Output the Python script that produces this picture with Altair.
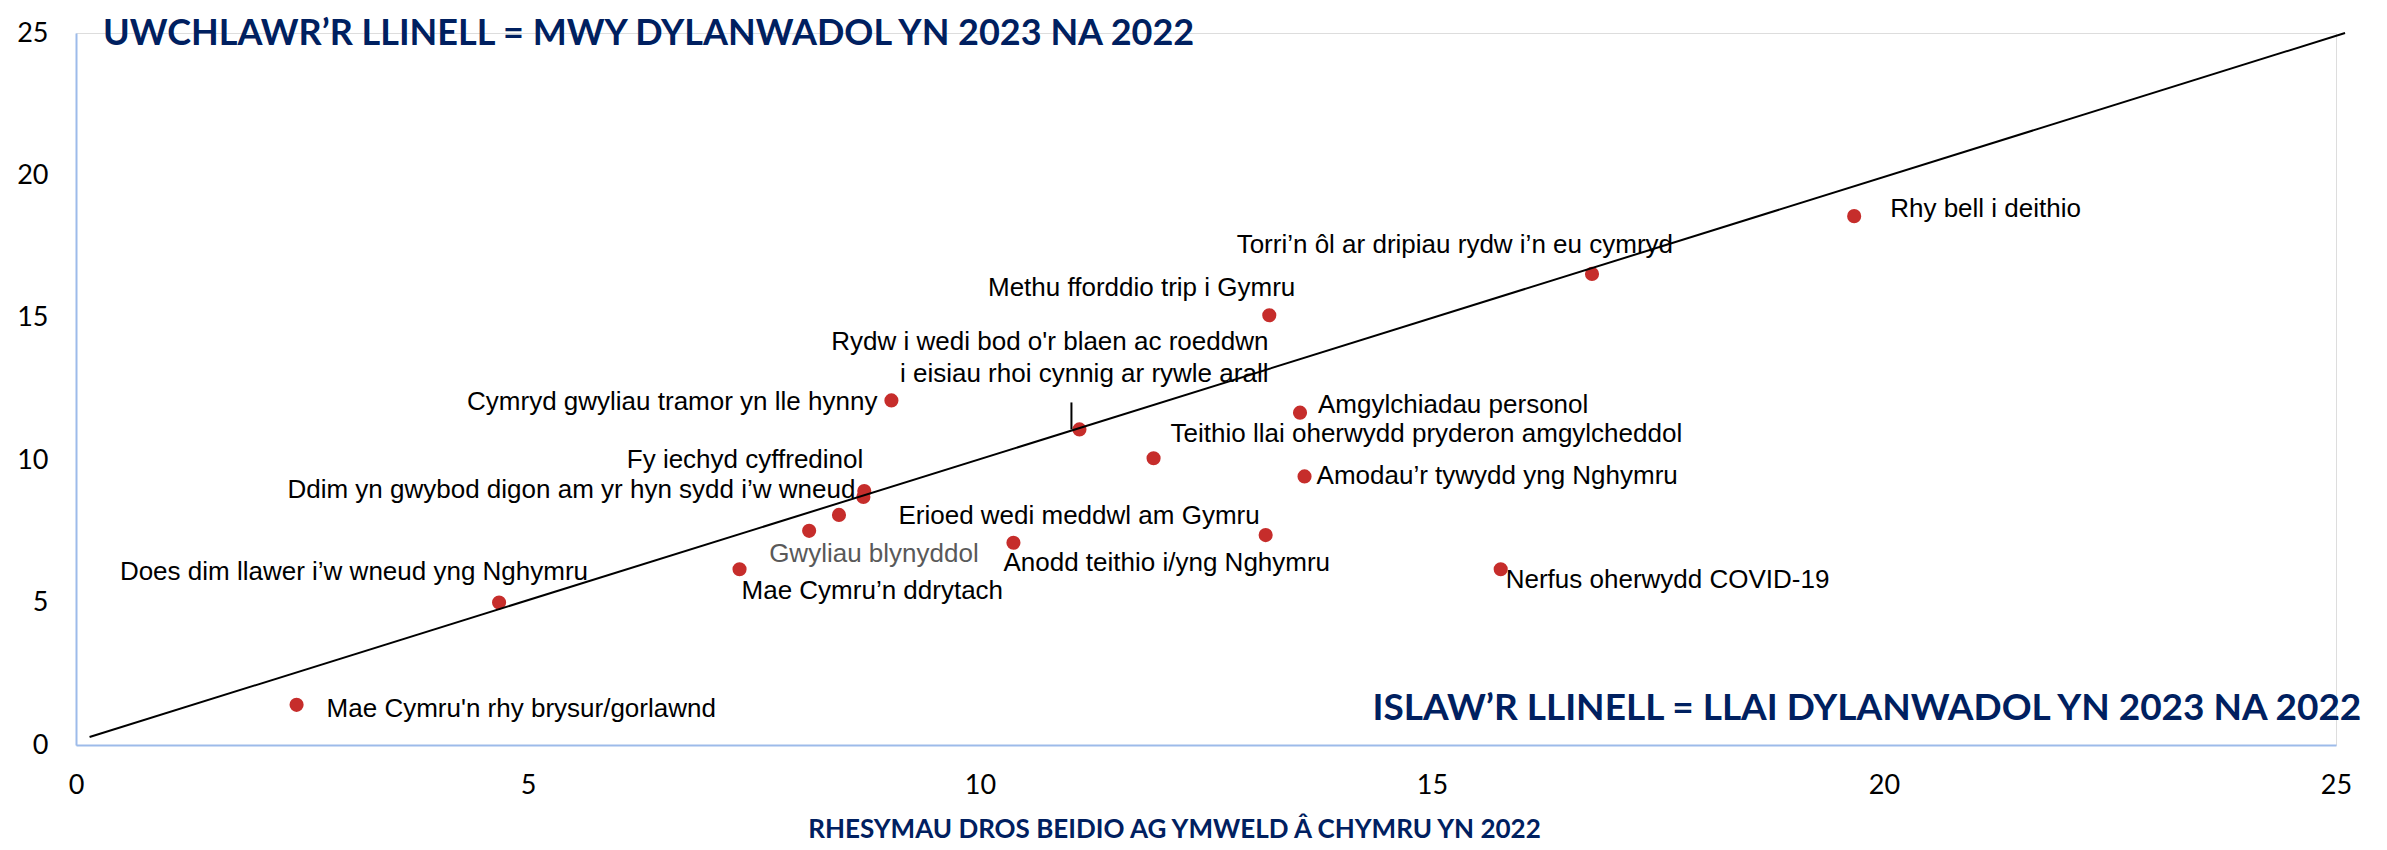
import altair as alt
import pandas as pd

# ---- data ----
reasons = [
    "Mae Cymru'n rhy brysur/gorlawnd",
    "Does dim llawer i\u2019w wneud yng Nghymru",
    "Mae Cymru\u2019n ddrytach",
    "Gwyliau blynyddol",
    "",
    "Fy iechyd cyffredinol",
    "Ddim yn gwybod digon am yr hyn sydd i\u2019w wneud",
    "Cymryd gwyliau tramor yn lle hynny",
    "Anodd teithio i/yng Nghymru",
    "Rydw i wedi bod o'r blaen ac roeddwn\ni eisiau rhoi cynnig ar rywle arall",
    "Teithio llai oherwydd pryderon amgylcheddol",
    "Erioed wedi meddwl am Gymru",
    "Methu fforddio trip i Gymru",
    "Amgylchiadau personol",
    "Amodau\u2019r tywydd yng Nghymru",
    "Nerfus oherwydd COVID-19",
    "Torri\u2019n \u00f4l ar dripiau rydw i\u2019n eu cymryd",
    "Rhy bell i deithio",
]
x_2022 = [2.44, 4.68, 7.34, 8.11, 8.44, 8.72, 8.71, 9.02, 10.37, 11.10, 11.92, 13.16, 13.20, 13.54, 13.59, 15.76, 16.77, 19.67]
y_2023 = [1.41, 5.00, 6.17, 7.52, 8.08, 8.92, 8.71, 12.10, 7.10, 11.08, 10.07, 7.37, 15.09, 11.67, 9.43, 6.17, 16.54, 18.57]

diag_x = [0.15, 25.1]
diag_y = [0.28, 25.0]

axis_ticks = [0, 5, 10, 15, 20, 25]

annot_text = ["UWCHLAWR\u2019R LLINELL = MWY DYLANWADOL YN 2023 NA 2022",
              "ISLAW\u2019R LLINELL = LLAI DYLANWADOL YN 2023 NA 2022"]
annot_x = [0.30, 25.28]
annot_y = [25.0, 1.26]

x_title = "RHESYMAU DROS BEIDIO AG YMWELD \u00c2  CHYMRU YN 2022"

# ---- label placement (pixel offsets from each dot) ----
label_dx = [30, 89, 2, -40, 0, -1, -8, -14, -10, 189, 17, -6, 26, 18, 12, 5, 81, 36]
label_dy = [4, -31, 22, 23, 0, -31, -7, 2, 20, -87, -24, -19, -27, -8, 0, 11, -29, -7]
label_align = ["left", "right", "left", "left", "left", "right", "right", "right", "left",
               "right", "left", "right", "right", "left", "left", "left", "right", "left"]
label_color = ["#000000"] * len(reasons)
label_color[3] = "#595959"

df = pd.DataFrame({"idx": list(range(len(reasons))), "reason": reasons, "x": x_2022, "y": y_2023})
line_df = pd.DataFrame({"x": diag_x, "y": diag_y})
annot_df = pd.DataFrame({"t": annot_text, "x": annot_x, "y": annot_y, "i": [0, 1]})

AXIS_BLUE = "#9DBBEA"
NAVY = "#002060"
RED = "#C62D2B"

xs = alt.Scale(domain=[0, 25], nice=False, zero=True)
ys = alt.Scale(domain=[0, 25], nice=False, zero=True)

x_axis = alt.Axis(values=axis_ticks, format="d", grid=False, ticks=False, domainColor=AXIS_BLUE,
                  domainWidth=2, labelFont="Lato", labelFontSize=27, labelColor="#000000",
                  labelPadding=27, labelFlush=False, title=x_title, titleFont="Lato",
                  titleFontSize=26, titleFontWeight="bold", titleColor=NAVY, titleX=1098,
                  titleY=84, titleAlign="center", titleBaseline="middle")
y_axis = alt.Axis(values=axis_ticks, format="d", grid=False, ticks=False, domainColor=AXIS_BLUE,
                  domainWidth=2, labelFont="Lato", labelFontSize=27, labelColor="#000000",
                  labelPadding=28, labelFlush=False, title=None)

X = alt.X("x:Q", scale=xs, axis=x_axis)
Y = alt.Y("y:Q", scale=ys, axis=y_axis)

points = alt.Chart(df).mark_circle(size=200, color=RED, opacity=1).encode(x=X, y=Y)

diag = alt.Chart(line_df).mark_line(color="#000000", strokeWidth=2, clip=False).encode(
    x=alt.X("x:Q", scale=xs), y=alt.Y("y:Q", scale=ys))

leader = alt.Chart(df).transform_filter(alt.datum.idx == 9).mark_rule(
    color="#000000", strokeWidth=2, xOffset=-8, y2Offset=-27).encode(
    x=alt.X("x:Q", scale=xs), y=alt.Y("y:Q", scale=ys), y2="y")

text_layers = []
for i, r in enumerate(reasons):
    if not r:
        continue
    t = alt.Chart(df).transform_filter(alt.datum.idx == i).mark_text(
        align=label_align[i], baseline="middle", dx=label_dx[i], dy=label_dy[i],
        font="Liberation Sans", fontSize=26, color=label_color[i], lineBreak="\n",
        lineHeight=32).encode(x=alt.X("x:Q", scale=xs), y=alt.Y("y:Q", scale=ys), text="reason:N")
    text_layers.append(t)

annot_top = alt.Chart(annot_df).transform_filter(alt.datum.i == 0).mark_text(
    align="left", baseline="middle", dy=1, font="Lato", fontSize=36, fontWeight="bold",
    color=NAVY).encode(x=alt.X("x:Q", scale=xs), y=alt.Y("y:Q", scale=ys), text="t:N")
annot_bot = alt.Chart(annot_df).transform_filter(alt.datum.i == 1).mark_text(
    align="right", baseline="middle", font="Lato", fontSize=37, fontWeight="bold",
    color=NAVY, clip=False).encode(x=alt.X("x:Q", scale=xs), y=alt.Y("y:Q", scale=ys), text="t:N")

chart = alt.layer(points, diag, leader, *text_layers, annot_top, annot_bot).properties(
    width=2260, height=712,
    autosize=alt.AutoSizeParams(type="none"),
    padding={"left": 68, "top": 25, "right": 43, "bottom": 97},
).configure_view(stroke=None).configure(background="white")

chart.save("out.html", embed_options={"renderer": "svg", "actions": False})
